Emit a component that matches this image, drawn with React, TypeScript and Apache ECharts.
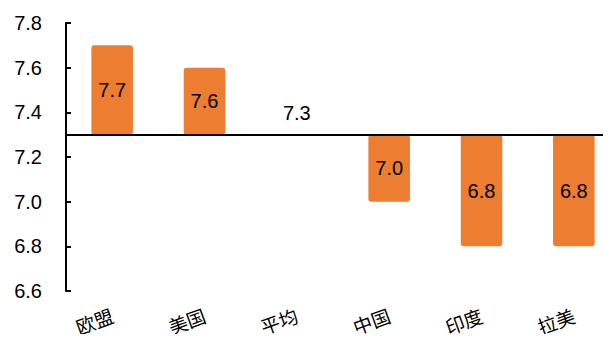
import React, { useEffect, useRef } from "react";
import * as echarts from "echarts";

// Regions and their values; bars float around the average line.
const categories = ["欧盟", "美国", "平均", "中国", "印度", "拉美"];
const values = [7.7, 7.6, 7.3, 7.0, 6.8, 6.8];
const baseline = 7.3;
const tickValues = [6.6, 6.8, 7.0, 7.2, 7.4, 7.6, 7.8];

const ORANGE = "#ED7D31";
const NUM_FONT = "'Liberation Sans', Arial, sans-serif";
const CJK_FONT = "'Noto Sans CJK SC', sans-serif";

export default function App() {
  const ref = useRef<HTMLDivElement>(null);

  useEffect(() => {
    if (!ref.current) return;
    const chart = echarts.init(ref.current, null, { renderer: "svg" });

    // value axis is measured relative to the baseline so the category axis sits on it
    const rel = (v: number) => Math.round((v - baseline) * 1000) / 1000;
    const relTicks = tickValues.map(rel);

    chart.setOption({
      animation: false,
      grid: {
        left: 66,
        right: -9,
        top: 23,
        bottom: 51,
        containLabel: false,
        outerBoundsMode: "none",
      },
      xAxis: {
        type: "category",
        data: categories,
        axisLine: { onZero: true, lineStyle: { color: "#000", width: 2 } },
        axisTick: { inside: true, length: 5, lineStyle: { color: "#000", width: 2 } },
        axisLabel: {
          rotate: 20,
          margin: 23,
          color: "#000",
          fontSize: 19,
          fontFamily: CJK_FONT,
          hideOverlap: false,
        },
        z: 10,
      },
      yAxis: {
        type: "value",
        min: relTicks[0],
        max: relTicks[relTicks.length - 1],
        splitLine: { show: false },
        axisLine: { show: true, lineStyle: { color: "#000", width: 2 } },
        axisTick: {
          show: true,
          inside: true,
          length: 5,
          customValues: relTicks,
          lineStyle: { color: "#000", width: 2 },
        },
        axisLabel: {
          customValues: relTicks,
          margin: 24,
          color: "#000",
          fontSize: 20,
          fontFamily: NUM_FONT,
          formatter: (v: number) => (v + baseline).toFixed(1),
        },
      },
      series: [
        {
          type: "bar",
          barWidth: "45%",
          data: values.map((v) => ({
            value: rel(v),
            label:
              rel(v) === 0
                ? { position: "top", distance: 12 }
                : undefined,
          })),
          itemStyle: { color: ORANGE, borderRadius: 3 },
          label: {
            show: true,
            position: "inside",
            color: "#000",
            fontSize: 20,
            fontFamily: NUM_FONT,
            formatter: (p: any) => values[p.dataIndex].toFixed(1),
          },
        },
      ],
    });

    return () => chart.dispose();
  }, []);

  return <div ref={ref} style={{ width: 611, height: 342, margin: "-8px" }} />;
}
